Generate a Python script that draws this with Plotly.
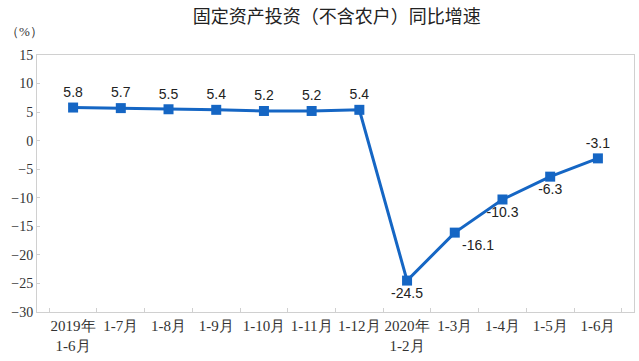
import plotly.graph_objects as go

categories = ["2019年<br>1-6月", "1-7月", "1-8月", "1-9月", "1-10月", "1-11月", "1-12月",
              "2020年<br>1-2月", "1-3月", "1-4月", "1-5月", "1-6月"]
values = [5.8, 5.7, 5.5, 5.4, 5.2, 5.2, 5.4, -24.5, -16.1, -10.3, -6.3, -3.1]
labels = ["5.8", "5.7", "5.5", "5.4", "5.2", "5.2", "5.4", "-24.5", "-16.1", "-10.3", "-6.3", "-3.1"]
positions = ["top center"] * 7 + ["bottom center", "bottom right", "bottom center", "bottom center", "top center"]

line_color = "#1566C4"
serif = "Times New Roman, Liberation Serif, serif"

fig = go.Figure()
fig.add_trace(go.Scatter(
    x=categories, y=values, mode="lines+markers+text",
    line=dict(color=line_color, width=3),
    marker=dict(symbol="square", size=10, color=line_color),
    text=labels, textposition=positions,
    textfont=dict(family="Arial, Liberation Sans, sans-serif", size=14, color="#222"),
    cliponaxis=False, showlegend=False,
))

fig.update_layout(
    width=639, height=361,
    margin=dict(l=37, r=5, t=55, b=49),
    paper_bgcolor="white", plot_bgcolor="white",
    title=dict(text="固定资产投资（不含农户）同比增速",
               font=dict(family="Noto Sans CJK SC", size=18, color="#222"),
               x=0.527, xanchor="center", y=0.955, yanchor="middle"),
    annotations=[dict(text="（%）", xref="paper", yref="paper", x=-0.055, y=1.09,
                      xanchor="left", yanchor="middle", showarrow=False,
                      font=dict(family=serif, size=13, color="#333"))],
)
fig.update_xaxes(
    type="category", showgrid=False, showline=True, linecolor="#d0d0d0", linewidth=1,
    mirror=True, ticks="inside", tickson="boundaries", ticklen=4, tickcolor="#d0d0d0",
    tickfont=dict(family=serif, size=15, color="#333"),
    tickangle=0,
)
fig.update_yaxes(
    range=[-30, 15], dtick=5, showgrid=False, zeroline=False,
    showline=True, linecolor="#d0d0d0", linewidth=1, mirror=True,
    ticks="inside", ticklen=3, tickcolor="#d0d0d0",
    tickfont=dict(family=serif, size=14, color="#333"),
)

fig.write_html("out.html")
